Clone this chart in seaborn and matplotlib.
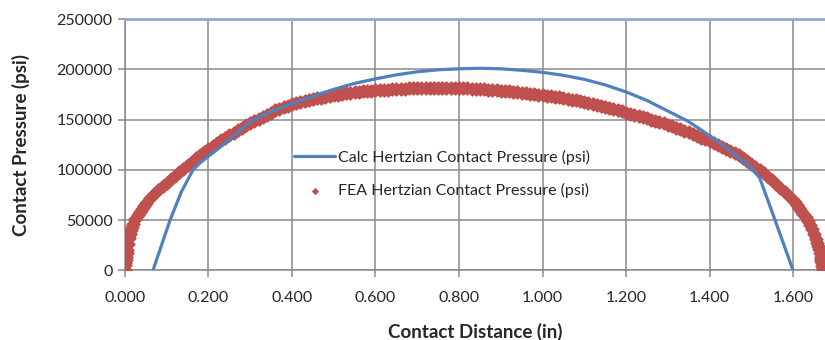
import matplotlib
matplotlib.use("Agg")
import matplotlib.pyplot as plt
import seaborn as sns
import pandas as pd

# Calculated Hertzian contact pressure (psi) vs contact distance (in)
calc_x = [0.067, 0.108, 0.135, 0.163, 0.18, 0.211, 0.25, 0.30, 0.35, 0.40,
          0.45, 0.50, 0.55, 0.60, 0.65, 0.70, 0.75, 0.80, 0.85, 0.90,
          0.95, 1.00, 1.05, 1.10, 1.15, 1.20, 1.25, 1.30, 1.35, 1.40,
          1.45, 1.50, 1.52, 1.55, 1.60]
calc_p = [0, 50000, 78000, 100000, 107000, 117000, 130000, 148000, 158000, 166000,
          173000, 180000, 186000, 190500, 194500, 197500, 199500, 200500, 201000, 200500,
          199000, 197000, 194000, 190000, 184500, 177500, 169000, 158500, 148000, 134000,
          119000, 102000, 92000, 58000, 0]

# FEA Hertzian contact pressure (psi) vs contact distance (in)
fea_x = [0.000, 0.0005, 0.001, 0.002, 0.003, 0.004, 0.005, 0.0075, 0.010, 0.0125,
         0.015, 0.0175, 0.020, 0.025, 0.030, 0.035, 0.040,
         0.045, 0.050, 0.060, 0.070, 0.080, 0.090, 0.100, 0.110, 0.120, 0.130,
         0.140, 0.150, 0.160, 0.170, 0.180, 0.190, 0.200, 0.210, 0.220, 0.230,
         0.240, 0.250, 0.260, 0.270, 0.280, 0.290, 0.300, 0.310, 0.320, 0.330,
         0.340, 0.350, 0.360, 0.370, 0.380, 0.390, 0.400, 0.410, 0.420, 0.430,
         0.440, 0.450, 0.460, 0.470, 0.480, 0.490, 0.500, 0.510, 0.520, 0.530,
         0.540, 0.550, 0.560, 0.570, 0.580, 0.590, 0.600, 0.610, 0.620, 0.630,
         0.640, 0.650, 0.660, 0.670, 0.680, 0.690, 0.700, 0.710, 0.720, 0.730,
         0.740, 0.750, 0.760, 0.770, 0.780, 0.790, 0.800, 0.810, 0.820, 0.830,
         0.840, 0.850, 0.860, 0.870, 0.880, 0.890, 0.900, 0.910, 0.920, 0.930,
         0.940, 0.950, 0.960, 0.970, 0.980, 0.990, 1.000, 1.010, 1.020, 1.030,
         1.040, 1.050, 1.060, 1.070, 1.080, 1.090, 1.100, 1.110, 1.120, 1.130,
         1.140, 1.150, 1.160, 1.170, 1.180, 1.190, 1.200, 1.210, 1.220, 1.230,
         1.240, 1.250, 1.260, 1.270, 1.280, 1.290, 1.300, 1.310, 1.320, 1.330,
         1.340, 1.350, 1.360, 1.370, 1.380, 1.390, 1.400, 1.410, 1.420, 1.430,
         1.440, 1.450, 1.460, 1.470, 1.480, 1.490, 1.500, 1.510, 1.520, 1.530,
         1.540, 1.550, 1.560, 1.570, 1.580, 1.590, 1.600, 1.605, 1.610, 1.615,
         1.620, 1.625, 1.630, 1.635, 1.640, 1.645, 1.650, 1.655, 1.658, 1.660,
         1.662, 1.664, 1.666, 1.667, 1.668, 1.669, 1.670, 1.671, 1.672]
fea_p = [0, 5000, 7000, 10000, 13000, 17000, 20000, 26000, 32000, 36000,
         40000, 43000, 46000, 51000, 55000, 58000, 61000,
         64000, 67000, 72000, 76000, 80000, 84000, 87000, 90500, 94000, 97500,
         101000, 104500, 108000, 111500, 115000, 118000, 121000, 124000, 127000, 129500,
         132000, 134500, 137000, 139500, 142000, 144500, 147000, 149000, 151000, 153000,
         155000, 157000, 159000, 160500, 162000, 163500, 165000, 166000, 167000, 168000,
         169000, 170000, 171000, 171800, 172500, 173300, 174000, 174800, 175500, 176000,
         176500, 177000, 177500, 178000, 178500, 178800, 179000, 179300, 179500, 179800,
         180000, 180300, 180500, 180800, 181000, 181000, 181000, 181300, 181500, 181500,
         181500, 181500, 181500, 181500, 181500, 181300, 181000, 181000, 181000, 180800,
         180500, 180300, 180000, 179800, 179500, 179000, 178500, 178300, 178000, 177500,
         177000, 176500, 176000, 175500, 175000, 174500, 174000, 173500, 173000, 172500,
         172000, 171300, 170500, 169800, 169000, 168000, 167000, 166300, 165500, 164500,
         163500, 162500, 161500, 160500, 159500, 158300, 157000, 156000, 155000, 153800,
         152500, 151300, 150000, 148800, 147500, 146300, 145000, 143500, 142000, 140500,
         139000, 137500, 136000, 134000, 132000, 130300, 128500, 126800, 125000, 123000,
         121000, 119000, 117000, 114500, 112000, 109000, 106000, 103000, 100000, 96500,
         93000, 89500, 86000, 82000, 78000, 74000, 70000, 67500, 65000, 62000,
         59000, 56000, 53000, 49000, 45000, 41000, 36000, 31000, 27000, 24000,
         21000, 17500, 13000, 11000, 9000, 7000, 4500, 2500, 0]

x_ticks = [0.0, 0.2, 0.4, 0.6, 0.8, 1.0, 1.2, 1.4, 1.6]
x_tick_labels = ["0.000", "0.200", "0.400", "0.600", "0.800",
                 "1.000", "1.200", "1.400", "1.600"]
y_ticks = [0, 50000, 100000, 150000, 200000, 250000]
y_tick_labels = ["0", "50000", "100000", "150000", "200000", "250000"]

calc_label = "Calc Hertzian Contact Pressure (psi)"
fea_label = "FEA Hertzian Contact Pressure (psi)"

calc_df = pd.DataFrame({"x": calc_x, "p": calc_p})
fea_df = pd.DataFrame({"x": fea_x, "p": fea_p})

sns.set_theme(style="white")
plt.rcParams["font.family"] = ["Lato", "DejaVu Sans"]

BLUE = "#4F81BD"
RED = "#C0504D"
GRID = "#8A8A8A"
TEXT = "#262626"

fig = plt.figure(figsize=(8.25, 3.40), dpi=100)
ax = fig.add_axes([0.1515, 0.205, 0.8485, 0.739])

# dense diamond markers with a rounded outline so they merge into one band
sns.scatterplot(data=fea_df, x="x", y="p", ax=ax, marker="D", s=40,
                color=RED, edgecolor=RED, linewidth=1.4, joinstyle="round",
                label=fea_label, zorder=3)
sns.lineplot(data=calc_df, x="x", y="p", ax=ax, color=BLUE, linewidth=2.3,
             label=calc_label, zorder=4, sort=False, estimator=None)

ax.set_xlim(0, 1.6766)
ax.set_ylim(0, 250000)
ax.set_xticks(x_ticks)
ax.set_xticklabels(x_tick_labels)
ax.set_yticks(y_ticks)
ax.set_yticklabels(y_tick_labels)

ax.grid(True, color=GRID, linewidth=1.1)
ax.set_axisbelow(True)
for side in ["left", "bottom", "right"]:
    ax.spines[side].set_color(GRID)
    ax.spines[side].set_linewidth(1.1)
ax.spines["right"].set_visible(False)
ax.spines["top"].set_color("#8EAAD2")
ax.spines["top"].set_linewidth(2.0)

ax.tick_params(axis="both", which="major", length=5, width=1.1, color=GRID,
               labelsize=11.5, labelcolor=TEXT, direction="out",
               bottom=True, left=True)
ax.tick_params(axis="x", pad=10)
ax.tick_params(axis="y", pad=4)

ax.set_xlabel("Contact Distance (in)", fontsize=13.5, fontweight="bold",
              color=TEXT, labelpad=13)
ax.set_ylabel("Contact Pressure (psi)", fontsize=13.5, fontweight="bold",
              color=TEXT, labelpad=19)

# legend: line entry first, marker entry second
handles, labels = ax.get_legend_handles_labels()
order = [labels.index(calc_label), labels.index(fea_label)]
leg = ax.legend([handles[i] for i in order], [labels[i] for i in order],
                loc="upper left", bbox_to_anchor=(0.232, 0.505),
                frameon=False, fontsize=11.5, handlelength=2.6,
                handletextpad=0.15, labelspacing=1.15, markerscale=1.0,
                borderaxespad=0)
for t in leg.get_texts():
    t.set_color(TEXT)
marker_handle = leg.legend_handles[1]
marker_handle.set_linewidth(0)
marker_handle.set_sizes([14])

fig.savefig("out.png", dpi=100)
